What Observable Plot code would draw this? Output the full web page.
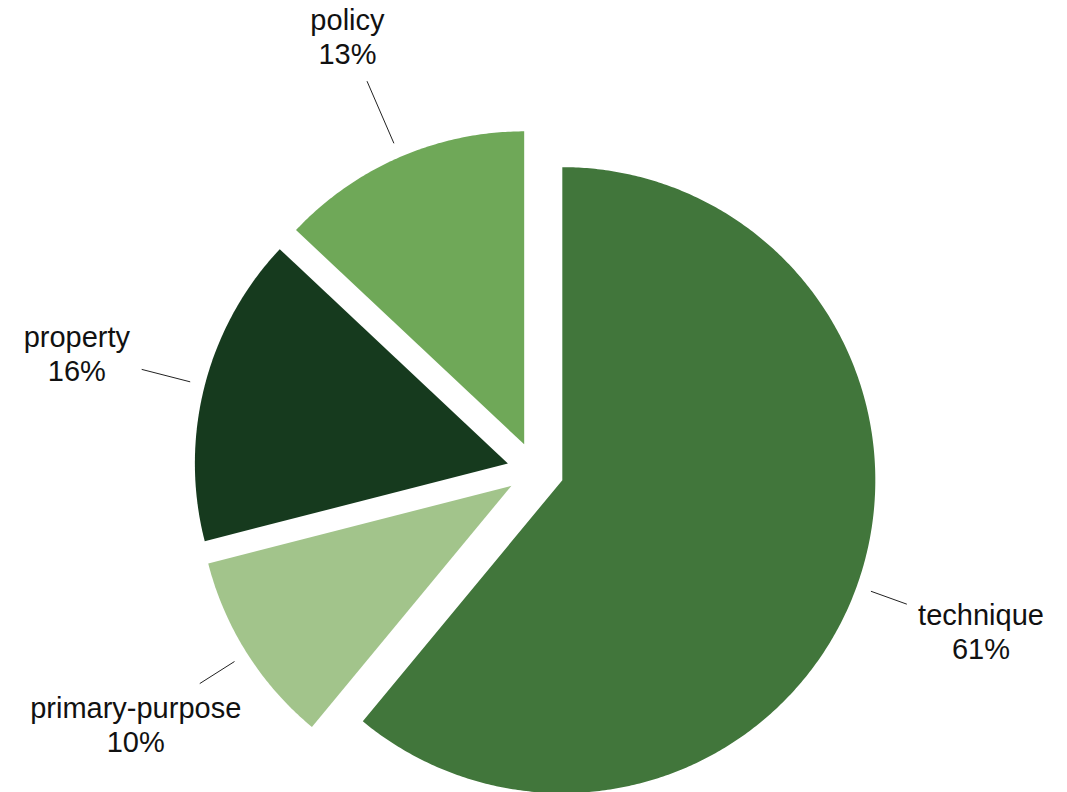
<!DOCTYPE html>
<html>
<head>
<meta charset="utf-8">
<script src="https://cdn.jsdelivr.net/npm/d3@7"></script>
<script src="https://cdn.jsdelivr.net/npm/@observablehq/plot@0.6"></script>
<style>
  html, body { margin: 0; padding: 0; background: #fff; overflow: hidden; }
  #chart { width: 1067px; height: 792px; overflow: hidden; }
</style>
</head>
<body>
<div id="chart"></div>
<script>
// Data
const names = ["technique", "primary-purpose", "property", "policy"];
const values = [61, 10, 16, 13];
const colors = ["#41763b", "#a2c48b", "#163a1e", "#6fa858"];

// Layout parameters (in px-equivalent data units)
const R = 313;          // pie radius
const EXPLODE = 28.5;   // offset of each slice from the center
const LABEL_R = 445;    // label distance from slice apex
const LEADER_IN = 15;   // gap between rim and leader start
const PAD = 12;         // gap between leader end and label box
const FONT = 29;
const LINE_H = 1.18;

const total = d3.sum(values);
let acc = 0;
const slices = names.map((name, i) => {
  const a0 = acc / total * 2 * Math.PI;
  acc += values[i];
  const a1 = acc / total * 2 * Math.PI;
  const mid = (a0 + a1) / 2;
  return {name, value: values[i], a0, a1, mid,
          ox: EXPLODE * Math.sin(mid), oy: EXPLODE * Math.cos(mid)};
});

// Polygon vertices for each slice
const pts = [];
for (const s of slices) {
  pts.push({name: s.name, x: s.ox, y: s.oy});
  const n = Math.max(2, Math.ceil((s.a1 - s.a0) / (Math.PI / 360)));
  for (let k = 0; k <= n; k++) {
    const a = s.a0 + (s.a1 - s.a0) * k / n;
    pts.push({name: s.name, x: s.ox + R * Math.sin(a), y: s.oy + R * Math.cos(a)});
  }
  pts.push({name: s.name, x: s.ox, y: s.oy});
}

// Text measurement for leader-line ends
const ctx = document.createElement("canvas").getContext("2d");
ctx.font = `${FONT}px "Liberation Sans", Arial, sans-serif`;

const labels = slices.map(s => {
  const dx = Math.sin(s.mid), dy = Math.cos(s.mid);
  const pct = Math.round(s.value / total * 100) + "%";
  const halfW = Math.max(ctx.measureText(s.name).width, ctx.measureText(pct).width) / 2;
  const halfH = FONT * LINE_H;
  const tBox = Math.min(halfW / Math.max(Math.abs(dx), 1e-6), halfH / Math.max(Math.abs(dy), 1e-6));
  const outer = LABEL_R - tBox - PAD;
  return {
    text: s.name + "\n" + pct,
    x: s.ox + LABEL_R * dx, y: s.oy + LABEL_R * dy,
    x1: s.ox + (R + LEADER_IN) * dx, y1: s.oy + (R + LEADER_IN) * dy,
    x2: s.ox + outer * dx, y2: s.oy + outer * dy
  };
});

const chart = Plot.plot({
  width: 1067,
  height: 792,
  margin: 0,
  style: {fontFamily: '"Liberation Sans", Arial, Helvetica, sans-serif', background: "#fff"},
  x: {domain: [-535, 532], axis: null},
  y: {domain: [-322, 470], axis: null},
  color: {domain: names, range: colors},
  marks: [
    Plot.line(pts, {x: "x", y: "y", z: "name", fill: "name", stroke: "none", curve: "linear"}),
    Plot.link(labels, {x1: "x1", y1: "y1", x2: "x2", y2: "y2", stroke: "#222", strokeWidth: 1}),
    Plot.text(labels, {x: "x", y: "y", text: "text", fontSize: FONT, lineHeight: LINE_H, fill: "#111", textAnchor: "middle"})
  ]
});
document.getElementById("chart").appendChild(chart);
</script>
</body>
</html>
